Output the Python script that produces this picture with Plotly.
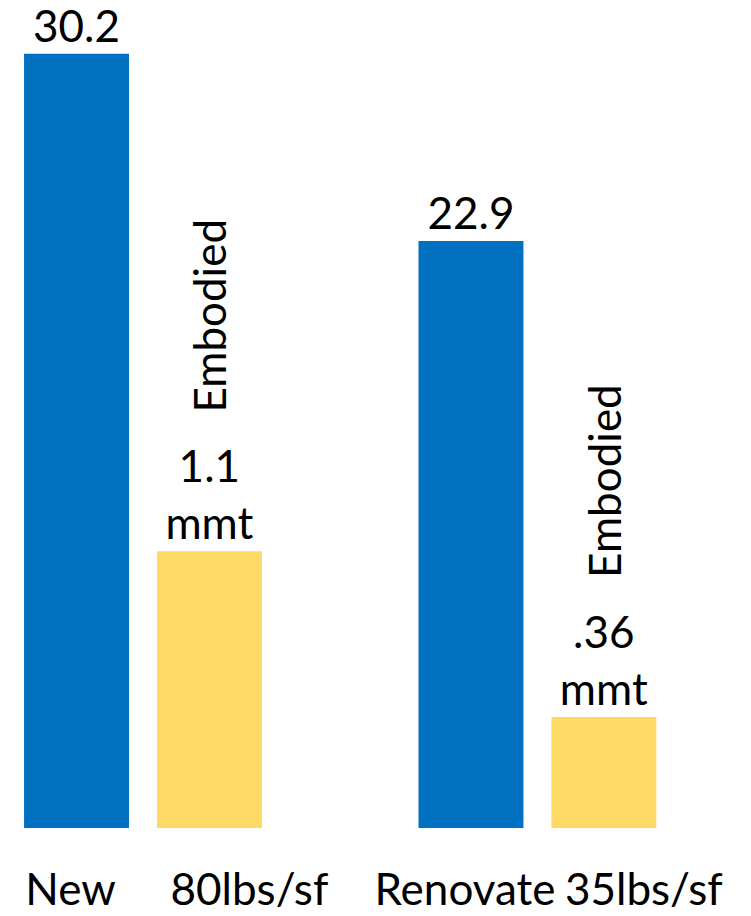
import plotly.graph_objects as go

# ---- data ----
buildings = ["New", "Renovate"]
embodied_labels = ["80lbs/sf", "35lbs/sf"]
operational_values = [30.2, 22.9]
embodied_bar_heights = [10.8, 4.33]          # drawn heights
embodied_texts = ["1.1<br>mmt", ".36<br>mmt"]
rotated_label = "Embodied"

# ---- style ----
FONT = "Lato"
FSIZE = 44
BLUE = "#0070C0"
YELLOW = "#FFD966"
BAR_W = 0.266

fig = go.Figure()
fig.add_bar(
    x=buildings, y=operational_values,
    text=[f"{v}" for v in operational_values],
    textposition="outside", constraintext="none", cliponaxis=False,
    marker=dict(color=BLUE, line=dict(width=0)),
    width=BAR_W, xaxis="x", yaxis="y",
    textfont=dict(family=FONT, size=FSIZE, color="black"),
    hoverinfo="skip",
)
fig.add_bar(
    x=embodied_labels, y=embodied_bar_heights,
    text=embodied_texts,
    textposition="outside", constraintext="none", cliponaxis=False,
    marker=dict(color=YELLOW, line=dict(width=0)),
    width=BAR_W, xaxis="x2", yaxis="y",
    textfont=dict(family=FONT, size=FSIZE, color="black"),
    hoverinfo="skip",
)

for cat, h in zip(embodied_labels, embodied_bar_heights):
    fig.add_annotation(
        x=cat, y=h, xref="x2", yref="y",
        text=rotated_label, textangle=-90,
        xanchor="center", yanchor="bottom", yshift=137,
        showarrow=False,
        font=dict(family=FONT, size=FSIZE, color="black"),
    )

axis_common = dict(
    showgrid=False, zeroline=False, showline=False, ticks="",
    tickfont=dict(family=FONT, size=FSIZE, color="black"),
    ticklabelstandoff=32,
    fixedrange=True,
)
fig.update_layout(
    width=751, height=916,
    margin=dict(l=0, r=0, t=0, b=88),
    paper_bgcolor="white", plot_bgcolor="white",
    showlegend=False,
    font=dict(family=FONT, size=FSIZE, color="black"),
    xaxis=dict(range=[-0.194, 1.710], ticklabelshift=-6, **axis_common),
    xaxis2=dict(range=[-0.531, 1.373], overlaying="x", anchor="y", side="bottom",
                ticklabelshift=40, **axis_common),
    yaxis=dict(range=[0, 32.3], visible=False, fixedrange=True),
)

fig.write_html("out.html")
